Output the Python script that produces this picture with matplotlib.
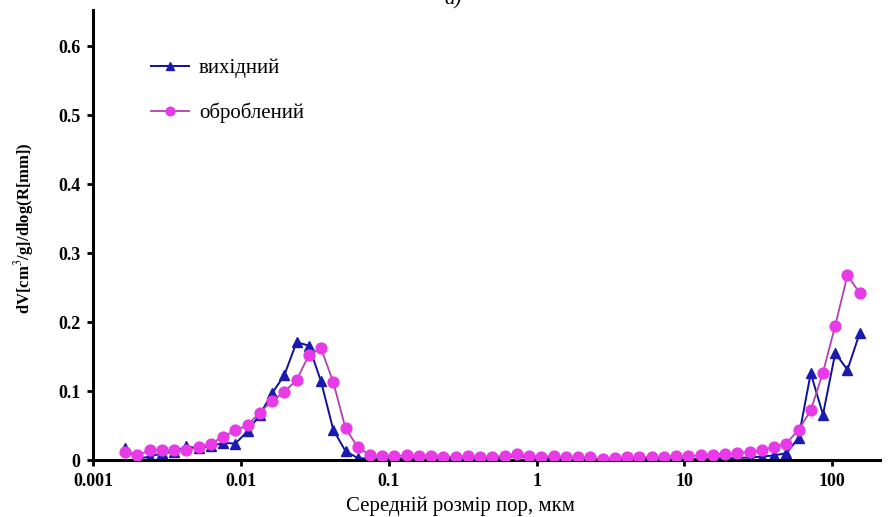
import numpy as np
import matplotlib
import matplotlib.pyplot as plt

matplotlib.use('Agg')

plt.rcParams['font.family'] = ['Liberation Serif', 'DejaVu Serif']
plt.rcParams['mathtext.fontset'] = 'stix'

# Середній розмір пор, мкм
pore_size = [
    0.001648, 0.001994, 0.002413, 0.002920, 0.003534, 0.004276, 0.005175, 0.006262,
    0.007578, 0.009170, 0.01110, 0.01343, 0.01625, 0.01967, 0.02380, 0.02880,
    0.03485, 0.04217, 0.05103, 0.06175, 0.07472, 0.09042, 0.1094, 0.1324,
    0.1602, 0.1939, 0.2346, 0.2839, 0.3436, 0.4158, 0.5032, 0.6089,
    0.7368, 0.8916, 1.079, 1.306, 1.580, 1.912, 2.314, 2.800,
    3.388, 4.100, 4.961, 6.004, 7.265, 8.791, 10.64, 12.87,
    15.58, 18.85, 22.81, 27.61, 33.41, 40.42, 48.92, 59.20,
    71.63, 86.68, 104.9, 126.9, 153.6,
]

# вихідний
initial = [
    0.017, 0.002, 0.005, 0.010, 0.012, 0.020, 0.017, 0.020,
    0.025, 0.024, 0.042, 0.066, 0.097, 0.123, 0.171, 0.166,
    0.114, 0.044, 0.013, 0.003, 0.002, 0.003, 0.002, 0.003,
    0.002, 0.001, 0.002, 0.003, 0.002, 0.002, 0.003, 0.004,
    0.006, 0.003, 0.002, 0.003, 0.001, 0.001, 0.001, 0.001,
    0.002, 0.001, 0.002, 0.002, 0.001, 0.002, 0.002, 0.002,
    0.003, 0.003, 0.003, 0.004, 0.005, 0.007, 0.010, 0.032,
    0.126, 0.066, 0.155, 0.131, 0.184,
]

# оброблений
treated = [
    0.012, 0.007, 0.0145, 0.015, 0.0145, 0.0145, 0.019, 0.024,
    0.034, 0.043, 0.051, 0.069, 0.086, 0.099, 0.116, 0.152,
    0.162, 0.113, 0.046, 0.019, 0.007, 0.006, 0.006, 0.007,
    0.006, 0.006, 0.005, 0.005, 0.006, 0.005, 0.005, 0.006,
    0.009, 0.006, 0.005, 0.006, 0.004, 0.004, 0.004, 0.001,
    0.003, 0.004, 0.005, 0.004, 0.005, 0.006, 0.006, 0.007,
    0.008, 0.009, 0.010, 0.012, 0.0145, 0.019, 0.024, 0.044,
    0.072, 0.127, 0.195, 0.268, 0.242,
]

x_ticks = [0.001, 0.01, 0.1, 1, 10, 100]
x_tick_labels = ['0.001', '0.01', '0.1', '1', '10', '100']
y_ticks = [0, 0.1, 0.2, 0.3, 0.4, 0.5, 0.6]
y_tick_labels = ['0', '0.1', '0.2', '0.3', '0.4', '0.5', '0.6']

fig = plt.figure(figsize=(8.95, 5.17), dpi=100)
ax = fig.add_axes([0.104, 0.110, 0.879, 0.870])

ax.plot(pore_size, initial, color='#10109a', lw=1.4, marker='^', ms=7.5,
        markerfacecolor='#1a1ab0', markeredgecolor='#1a1ab0', label='вихідний', zorder=2)
ax.plot(pore_size, treated, color='#b040b0', lw=1.3, marker='o', ms=7.8,
        markerfacecolor='#e83ae6', markeredgecolor='#e83ae6', label='оброблений', zorder=3)

ax.set_xscale('log')
ax.set_xlim(0.001, 210)
ax.set_ylim(0, 0.652)
ax.set_xticks(x_ticks)
ax.set_xticklabels(x_tick_labels)
ax.xaxis.set_minor_locator(matplotlib.ticker.NullLocator())
ax.set_yticks(y_ticks)
ax.set_yticklabels(y_tick_labels)

for lab in ax.get_xticklabels() + ax.get_yticklabels():
    lab.set_fontweight('bold')
    lab.set_fontsize(13)

ax.tick_params(axis='both', direction='out', length=4, width=2, color='black', pad=5)
ax.spines['top'].set_visible(False)
ax.spines['right'].set_visible(False)
ax.spines['left'].set_linewidth(2.2)
ax.spines['bottom'].set_linewidth(2.2)

# підпис осі X трохи зміщений ліворуч, як в оригіналі
ax.set_xlabel('Середній розмір пор, мкм', fontsize=15)
ax.xaxis.set_label_coords(0.467, -0.08)
ax.set_ylabel('dV[cm$^3$/g]/dlog(R[mm])', fontsize=12, fontweight='bold')
ax.yaxis.set_label_coords(-0.072, 0.515)

leg = ax.legend(loc='upper left', bbox_to_anchor=(0.05, 0.935), frameon=False,
                fontsize=15, labelspacing=1.2, handlelength=1.8, handletextpad=0.5,
                markerscale=0.8)

fig.text(0.506, 1.0, 'а)', fontsize=15, style='italic', ha='center', va='center')

fig.savefig('out.png', dpi=100)
plt.close(fig)
